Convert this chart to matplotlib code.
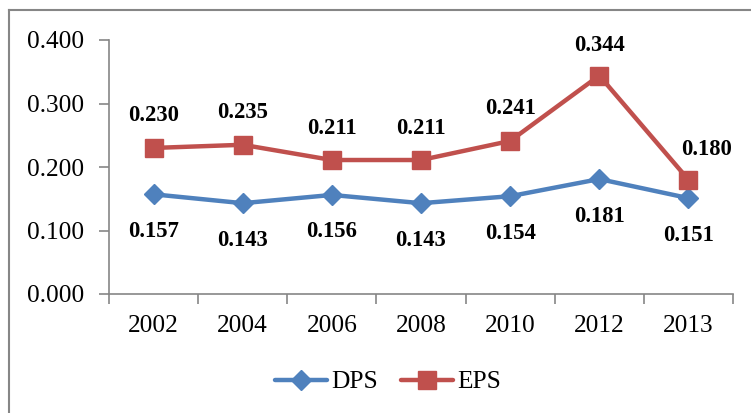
import matplotlib
matplotlib.use("Agg")
import matplotlib.pyplot as plt
from matplotlib.lines import Line2D
import numpy as np

years = ["2002", "2004", "2006", "2008", "2010", "2012", "2013"]
dps = [0.157, 0.143, 0.156, 0.143, 0.154, 0.181, 0.151]
eps = [0.230, 0.235, 0.211, 0.211, 0.241, 0.344, 0.180]
yticks = [0.0, 0.1, 0.2, 0.3, 0.4]

plt.rcParams['font.family'] = ['Liberation Serif', 'DejaVu Serif']

fig = plt.figure(figsize=(7.51, 4.13), dpi=100)
ax = fig.add_axes([109/751, 1-294/413, (733-109)/751, (294-40)/413])

x = np.arange(len(years))
blue = '#4F81BD'
red = '#C0504D'
ax.plot(x, dps, color=blue, lw=3.2, marker='D', ms=10, mec=blue, mfc=blue, label='DPS', solid_capstyle='round')
ax.plot(x, eps, color=red, lw=3.2, marker='s', ms=13, mec=red, mfc=red, label='EPS', solid_capstyle='round')

for i, v in enumerate(dps):
    ax.annotate(f"{v:.3f}", (x[i], v), xytext=(0, -37*0.72), textcoords='offset points',
                ha='center', va='center', fontsize=16.3, fontweight='bold')
for i, v in enumerate(eps):
    dx = 18*0.72 if i == len(eps)-1 else 0
    dy = 30*0.72 if i >= 5 else 32*0.72
    ax.annotate(f"{v:.3f}", (x[i], v), xytext=(dx, dy), textcoords='offset points',
                ha='center', va='center', fontsize=16.3, fontweight='bold')

ax.set_xlim(-0.5, len(years)-0.5)
ax.set_ylim(0, 0.4)
ax.set_yticks(yticks)
ax.set_yticklabels([f"{t:.3f}" for t in yticks], fontsize=18.3)
ax.set_xticks(x)
ax.set_xticklabels(years, fontsize=18.3)
ax.set_xticks(np.arange(-0.5, len(years), 1), minor=True)
ax.tick_params(axis='x', which='major', length=0, pad=15)
ax.tick_params(axis='x', which='minor', length=7, width=1.2, color='#868686', direction='out')
ax.tick_params(axis='y', which='major', length=7, width=1.2, color='#868686', direction='out', pad=11)

for s in ['top', 'right']:
    ax.spines[s].set_visible(False)
for s in ['left', 'bottom']:
    ax.spines[s].set_color('#868686')
    ax.spines[s].set_linewidth(1.2)

h = [Line2D([], [], color=blue, lw=3.2, marker='D', ms=10, solid_capstyle='round'),
     Line2D([], [], color=red, lw=3.2, marker='s', ms=13, solid_capstyle='round')]
fig.legend(h, ['DPS', 'EPS'], loc='center', bbox_to_anchor=(388/751, 1-382/413), ncol=2,
           frameon=False, fontsize=18.3, handlelength=2.05, handletextpad=0.15, columnspacing=0.9,
           borderpad=0, borderaxespad=0)

# outer chart border (top and left visible)
fig.add_artist(Line2D([9/751, 9/751], [0, 1-10/413], color='#868686', lw=1.5, transform=fig.transFigure))
fig.add_artist(Line2D([9/751, 1], [1-10/413, 1-10/413], color='#868686', lw=1.5, transform=fig.transFigure))

fig.savefig("out.png", dpi=100)
